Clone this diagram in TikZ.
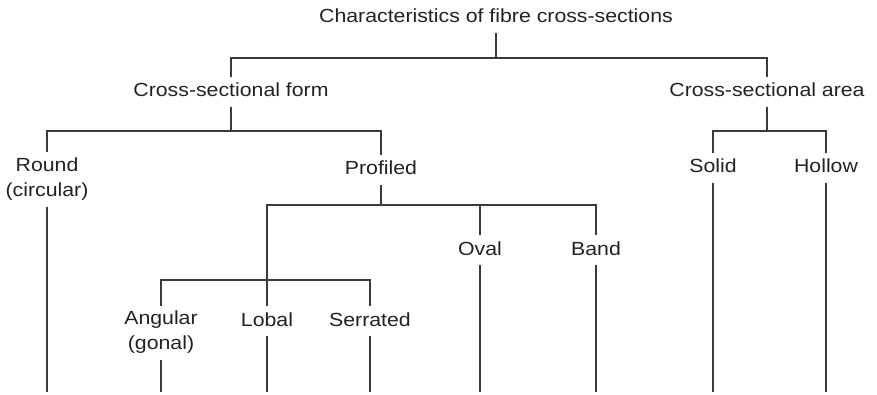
\documentclass[tikz,border=0pt]{standalone}
\usepackage{fontspec}
\setmainfont[FakeStretch=1.12]{Liberation Sans}
\definecolor{txt}{HTML}{222222}
\definecolor{lin}{HTML}{3A3A3A}
\begin{document}
\begin{tikzpicture}[x=1pt,y=-1pt,
  lbl/.style={anchor=base,text=txt,font=\fontsize{19}{25}\selectfont,
    text height=14pt,text depth=4pt,inner xsep=2pt,inner ysep=5.5pt},
  lbltwo/.style={anchor=north,text=txt,font=\fontsize{19}{25}\selectfont,
    align=center,inner xsep=2pt,inner ysep=5.5pt},
  ln/.style={draw=lin,line width=1.2pt}]
\useasboundingbox (0,0) rectangle (877,395);
% labels
\node[lbl] (title) at (496,23) {Characteristics of fibre cross-sections};
\node[lbl] (form) at (231,97) {Cross-sectional form};
\node[lbl] (area) at (767,97) {Cross-sectional area};
\node[lbltwo] (round) at (47,152.5) {Round\\(circular)};
\node[lbl] (prof) at (381,175) {Profiled};
\node[lbl] (solid) at (713,173) {Solid};
\node[lbl] (hollow) at (826,173) {Hollow};
\node[lbl] (oval) at (480,255) {Oval};
\node[lbl] (band) at (596,255) {Band};
\node[lbltwo] (ang) at (161,305.5) {Angular\\(gonal)};
\node[lbl] (lobal) at (267,326) {Lobal};
\node[lbl] (serr) at (370,326) {Serrated};
% junctions
\coordinate (b1) at (496,58);
\coordinate (b2) at (231,131);
\coordinate (b3) at (767,131);
\coordinate (b4) at (381,205);
\coordinate (b5) at (267,280);
\coordinate (bottom) at (0,392);
% connectors
\draw[ln] (title.south) -- (b1);
\draw[ln] (form.north) |- (b1) -| (area.north);
\draw[ln] (form.south) -- (b2);
\draw[ln] (round.north) |- (b2) -| (prof.north);
\draw[ln] (area.south) -- (b3);
\draw[ln] (solid.north) |- (b3) -| (hollow.north);
\draw[ln] (prof.south) -- (b4);
\draw[ln] (lobal.north) |- (b4) -| (band.north);
\draw[ln] (oval.north) -- (oval.north |- b4);
\draw[ln] (ang.north) |- (b5) -| (serr.north);
% free ends
\draw[ln] (round.south) -- (round.south |- bottom);
\draw[ln] (ang.south) -- (ang.south |- bottom);
\draw[ln] (lobal.south) -- (lobal.south |- bottom);
\draw[ln] (serr.south) -- (serr.south |- bottom);
\draw[ln] (oval.south) -- (oval.south |- bottom);
\draw[ln] (band.south) -- (band.south |- bottom);
\draw[ln] (solid.south) -- (solid.south |- bottom);
\draw[ln] (hollow.south) -- (hollow.south |- bottom);
\end{tikzpicture}
\end{document}
